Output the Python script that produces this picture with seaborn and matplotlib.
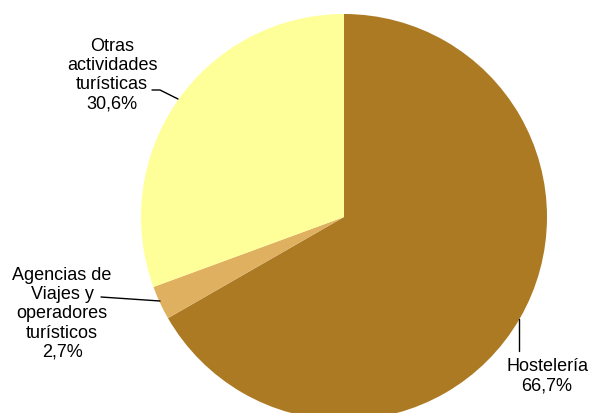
import matplotlib
matplotlib.use("Agg")
import matplotlib.pyplot as plt
import seaborn as sns

# datos
categorias = ["Hostelería", "Agencias de\nViajes y\noperadores\nturísticos", "Otras\nactividades\nturísticas"]
porcentajes = [66.7, 2.7, 30.6]
colores = ["#AD7A24", "#E0B061", "#FFFF99"]

sns.set_style("white")
plt.rcParams["font.family"] = ["Liberation Sans", "DejaVu Sans"]

fig = plt.figure(figsize=(5.9, 4.14), dpi=100)
ax = fig.add_axes([0, 0, 1, 1])

ax.pie(porcentajes, colors=colores, startangle=90, counterclock=False,
       center=(344, 196), radius=203, frame=True,
       wedgeprops=dict(linewidth=0))
ax.set_xlim(0, 590)
ax.set_ylim(0, 414)
ax.set_aspect("equal")
ax.axis("off")

def etiqueta(i):
    return categorias[i] + "\n" + f"{porcentajes[i]:.1f}%".replace(".", ",")

fs = 13
kw = dict(ha="center", va="center", fontsize=fs, linespacing=1.17, color="black")
ax.text(547, 414 - 376, etiqueta(0), **kw)
ax.plot([519, 519], [414 - 320, 414 - 352], color="black", lw=1)

ax.text(62, 414 - 314, etiqueta(1), **kw)
ax.plot([101, 160], [414 - 298, 414 - 302], color="black", lw=1)

ax.text(112, 414 - 75, etiqueta(2), **kw)
ax.plot([152, 160, 178], [414 - 91, 414 - 91, 414 - 100], color="black", lw=1)

fig.savefig("out.png", dpi=100)
